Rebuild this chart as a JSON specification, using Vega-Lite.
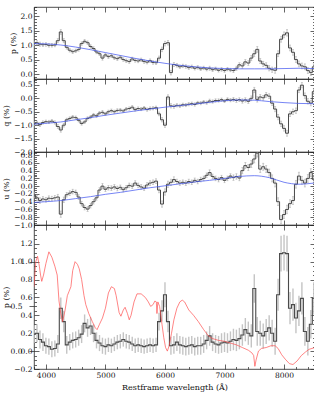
{
  "$schema": "https://vega.github.io/schema/vega-lite/v6.json",
  "padding": {"left": 2, "top": 2, "right": 0, "bottom": 0},
  "spacing": 0,
  "bounds": "flush",
  "datasets": {
    "bins": [
      {"w":3800,"p":1.05,"q":-0.95,"u":-0.23,"c":0.19,"e":0.07,"ec":0.10},
      {"w":3850,"p":1.08,"q":-0.92,"u":-0.30,"c":0.20,"e":0.07,"ec":0.10},
      {"w":3900,"p":1.03,"q":-0.98,"u":-0.37,"c":0.13,"e":0.07,"ec":0.10},
      {"w":3950,"p":1.01,"q":-0.90,"u":-0.33,"c":0.10,"e":0.06,"ec":0.10},
      {"w":4000,"p":1.02,"q":-0.87,"u":-0.35,"c":0.06,"e":0.06,"ec":0.09},
      {"w":4050,"p":0.99,"q":-0.88,"u":-0.31,"c":0.05,"e":0.06,"ec":0.09},
      {"w":4100,"p":0.99,"q":-0.85,"u":-0.32,"c":0.02,"e":0.06,"ec":0.09},
      {"w":4150,"p":1.00,"q":-0.90,"u":-0.30,"c":0.03,"e":0.06,"ec":0.09},
      {"w":4200,"p":1.15,"q":-1.05,"u":-0.28,"c":0.08,"e":0.07,"ec":0.10},
      {"w":4250,"p":1.45,"q":-1.18,"u":-0.72,"c":0.48,"e":0.08,"ec":0.12},
      {"w":4300,"p":1.15,"q":-1.00,"u":-0.35,"c":0.33,"e":0.07,"ec":0.12},
      {"w":4350,"p":0.92,"q":-0.80,"u":-0.22,"c":0.07,"e":0.06,"ec":0.10},
      {"w":4400,"p":0.82,"q":-0.75,"u":-0.18,"c":0.10,"e":0.06,"ec":0.09},
      {"w":4450,"p":0.77,"q":-0.70,"u":-0.14,"c":0.12,"e":0.06,"ec":0.09},
      {"w":4500,"p":0.80,"q":-0.72,"u":-0.16,"c":0.13,"e":0.06,"ec":0.09},
      {"w":4550,"p":0.85,"q":-0.82,"u":-0.28,"c":0.15,"e":0.06,"ec":0.09},
      {"w":4600,"p":1.05,"q":-0.94,"u":-0.45,"c":0.19,"e":0.06,"ec":0.10},
      {"w":4650,"p":1.13,"q":-0.88,"u":-0.55,"c":0.31,"e":0.06,"ec":0.10},
      {"w":4700,"p":1.08,"q":-0.75,"u":-0.59,"c":0.26,"e":0.06,"ec":0.10},
      {"w":4750,"p":0.95,"q":-0.70,"u":-0.50,"c":0.28,"e":0.06,"ec":0.10},
      {"w":4800,"p":0.88,"q":-0.62,"u":-0.40,"c":0.20,"e":0.06,"ec":0.10},
      {"w":4850,"p":0.76,"q":-0.65,"u":-0.30,"c":0.12,"e":0.06,"ec":0.09},
      {"w":4900,"p":0.70,"q":-0.55,"u":-0.10,"c":0.09,"e":0.06,"ec":0.09},
      {"w":4950,"p":0.55,"q":-0.52,"u":0.00,"c":0.06,"e":0.07,"ec":0.09},
      {"w":5000,"p":0.66,"q":-0.58,"u":-0.08,"c":0.05,"e":0.06,"ec":0.09},
      {"w":5050,"p":0.60,"q":-0.50,"u":-0.04,"c":0.07,"e":0.06,"ec":0.08},
      {"w":5100,"p":0.63,"q":-0.46,"u":-0.05,"c":0.06,"e":0.06,"ec":0.08},
      {"w":5150,"p":0.56,"q":-0.50,"u":-0.02,"c":0.08,"e":0.06,"ec":0.08},
      {"w":5200,"p":0.53,"q":-0.45,"u":-0.06,"c":0.10,"e":0.06,"ec":0.08},
      {"w":5250,"p":0.58,"q":-0.44,"u":-0.03,"c":0.11,"e":0.06,"ec":0.08},
      {"w":5300,"p":0.50,"q":-0.47,"u":-0.09,"c":0.13,"e":0.06,"ec":0.08},
      {"w":5350,"p":0.46,"q":-0.40,"u":-0.04,"c":0.11,"e":0.06,"ec":0.08},
      {"w":5400,"p":0.43,"q":-0.38,"u":0.02,"c":0.10,"e":0.06,"ec":0.08},
      {"w":5450,"p":0.52,"q":-0.33,"u":0.00,"c":0.08,"e":0.06,"ec":0.08},
      {"w":5500,"p":0.47,"q":-0.42,"u":0.08,"c":0.06,"e":0.06,"ec":0.08},
      {"w":5550,"p":0.45,"q":-0.38,"u":0.02,"c":0.07,"e":0.06,"ec":0.08},
      {"w":5600,"p":0.49,"q":-0.40,"u":-0.02,"c":0.06,"e":0.06,"ec":0.08},
      {"w":5650,"p":0.43,"q":-0.36,"u":-0.05,"c":0.05,"e":0.06,"ec":0.08},
      {"w":5700,"p":0.41,"q":-0.42,"u":0.03,"c":0.06,"e":0.06,"ec":0.08},
      {"w":5750,"p":0.46,"q":-0.38,"u":0.08,"c":0.07,"e":0.06,"ec":0.08},
      {"w":5800,"p":0.40,"q":-0.37,"u":0.10,"c":0.06,"e":0.06,"ec":0.08},
      {"w":5850,"p":0.39,"q":-0.35,"u":0.13,"c":0.07,"e":0.06,"ec":0.08},
      {"w":5900,"p":0.55,"q":-0.58,"u":-0.10,"c":0.33,"e":0.07,"ec":0.10},
      {"w":5950,"p":0.85,"q":-0.80,"u":-0.46,"c":0.45,"e":0.08,"ec":0.12},
      {"w":6000,"p":1.05,"q":-1.00,"u":-0.15,"c":0.63,"e":0.08,"ec":0.14},
      {"w":6050,"p":1.08,"q":0.05,"u":0.05,"c":0.33,"e":0.08,"ec":0.12},
      {"w":6100,"p":0.05,"q":-0.28,"u":0.10,"c":0.06,"e":0.08,"ec":0.10},
      {"w":6150,"p":0.33,"q":-0.30,"u":0.17,"c":0.07,"e":0.07,"ec":0.10},
      {"w":6200,"p":0.30,"q":-0.26,"u":0.12,"c":0.10,"e":0.06,"ec":0.10},
      {"w":6250,"p":0.25,"q":-0.28,"u":0.08,"c":0.07,"e":0.06,"ec":0.10},
      {"w":6300,"p":0.28,"q":-0.24,"u":0.10,"c":0.06,"e":0.06,"ec":0.10},
      {"w":6350,"p":0.26,"q":-0.25,"u":0.08,"c":0.05,"e":0.06,"ec":0.10},
      {"w":6400,"p":0.22,"q":-0.22,"u":0.12,"c":0.06,"e":0.06,"ec":0.10},
      {"w":6450,"p":0.25,"q":-0.20,"u":0.10,"c":0.07,"e":0.06,"ec":0.10},
      {"w":6500,"p":0.20,"q":-0.23,"u":0.15,"c":0.05,"e":0.06,"ec":0.10},
      {"w":6550,"p":0.23,"q":-0.17,"u":0.12,"c":0.06,"e":0.06,"ec":0.10},
      {"w":6600,"p":0.18,"q":-0.18,"u":0.17,"c":0.06,"e":0.06,"ec":0.10},
      {"w":6650,"p":0.21,"q":-0.14,"u":0.20,"c":0.08,"e":0.06,"ec":0.10},
      {"w":6700,"p":0.17,"q":-0.16,"u":0.28,"c":0.12,"e":0.06,"ec":0.10},
      {"w":6750,"p":0.20,"q":-0.10,"u":0.35,"c":0.17,"e":0.07,"ec":0.11},
      {"w":6800,"p":0.15,"q":-0.12,"u":0.25,"c":0.10,"e":0.06,"ec":0.10},
      {"w":6850,"p":0.18,"q":-0.08,"u":0.20,"c":0.08,"e":0.06,"ec":0.10},
      {"w":6900,"p":0.13,"q":-0.08,"u":0.17,"c":0.07,"e":0.06,"ec":0.10},
      {"w":6950,"p":0.16,"q":-0.05,"u":0.22,"c":0.09,"e":0.06,"ec":0.11},
      {"w":7000,"p":0.12,"q":-0.10,"u":0.15,"c":0.10,"e":0.06,"ec":0.11},
      {"w":7050,"p":0.17,"q":-0.04,"u":0.20,"c":0.09,"e":0.06,"ec":0.11},
      {"w":7100,"p":0.14,"q":-0.07,"u":0.26,"c":0.11,"e":0.06,"ec":0.11},
      {"w":7150,"p":0.12,"q":-0.04,"u":0.22,"c":0.13,"e":0.07,"ec":0.12},
      {"w":7200,"p":0.20,"q":-0.08,"u":0.25,"c":0.12,"e":0.07,"ec":0.12},
      {"w":7250,"p":0.32,"q":-0.05,"u":0.21,"c":0.14,"e":0.07,"ec":0.12},
      {"w":7300,"p":0.28,"q":-0.10,"u":0.40,"c":0.18,"e":0.08,"ec":0.12},
      {"w":7350,"p":0.42,"q":-0.06,"u":0.53,"c":0.24,"e":0.08,"ec":0.13},
      {"w":7400,"p":0.38,"q":-0.11,"u":0.48,"c":0.20,"e":0.08,"ec":0.13},
      {"w":7450,"p":0.55,"q":0.00,"u":0.57,"c":0.17,"e":0.09,"ec":0.13},
      {"w":7500,"p":0.70,"q":0.31,"u":0.70,"c":0.70,"e":0.10,"ec":0.16},
      {"w":7550,"p":0.85,"q":-0.04,"u":0.85,"c":0.22,"e":0.10,"ec":0.16},
      {"w":7600,"p":0.45,"q":0.05,"u":0.44,"c":0.20,"e":0.09,"ec":0.14},
      {"w":7650,"p":0.35,"q":0.02,"u":0.50,"c":0.17,"e":0.09,"ec":0.14},
      {"w":7700,"p":0.30,"q":0.13,"u":0.44,"c":0.22,"e":0.09,"ec":0.14},
      {"w":7750,"p":0.20,"q":0.08,"u":0.35,"c":0.26,"e":0.09,"ec":0.14},
      {"w":7800,"p":0.15,"q":-0.18,"u":0.20,"c":0.20,"e":0.09,"ec":0.15},
      {"w":7850,"p":0.13,"q":-0.40,"u":0.08,"c":0.11,"e":0.10,"ec":0.15},
      {"w":7900,"p":0.70,"q":-0.70,"u":-0.40,"c":0.63,"e":0.10,"ec":0.18},
      {"w":7950,"p":1.20,"q":-0.95,"u":-0.86,"c":1.09,"e":0.10,"ec":0.20},
      {"w":8000,"p":1.35,"q":-1.12,"u":-0.73,"c":1.10,"e":0.10,"ec":0.20},
      {"w":8050,"p":1.42,"q":-1.30,"u":-0.60,"c":1.09,"e":0.11,"ec":0.20},
      {"w":8100,"p":0.90,"q":-0.58,"u":-0.45,"c":0.48,"e":0.10,"ec":0.18},
      {"w":8150,"p":0.75,"q":-0.50,"u":-0.37,"c":0.52,"e":0.10,"ec":0.18},
      {"w":8200,"p":0.50,"q":-0.46,"u":0.05,"c":0.37,"e":0.10,"ec":0.17},
      {"w":8250,"p":0.35,"q":0.31,"u":0.26,"c":0.45,"e":0.10,"ec":0.17},
      {"w":8300,"p":0.28,"q":0.49,"u":0.15,"c":0.59,"e":0.10,"ec":0.18},
      {"w":8350,"p":0.25,"q":0.10,"u":0.08,"c":0.22,"e":0.10,"ec":0.16},
      {"w":8400,"p":0.12,"q":-0.11,"u":0.20,"c":0.11,"e":0.10,"ec":0.16},
      {"w":8450,"p":0.05,"q":-0.18,"u":0.35,"c":0.30,"e":0.10,"ec":0.16},
      {"w":8500,"p":0.25,"q":0.25,"u":0.17,"c":0.59,"e":0.10,"ec":0.18}
    ],
    "fit": [
      {"w":3800,"pf":1.05,"qf":-0.96,"uf":-0.42},
      {"w":4000,"pf":1.04,"qf":-0.93,"uf":-0.40},
      {"w":4250,"pf":1.00,"qf":-0.88,"uf":-0.37},
      {"w":4500,"pf":0.93,"qf":-0.80,"uf":-0.32},
      {"w":4750,"pf":0.84,"qf":-0.72,"uf":-0.27},
      {"w":5000,"pf":0.74,"qf":-0.63,"uf":-0.21},
      {"w":5250,"pf":0.64,"qf":-0.55,"uf":-0.16},
      {"w":5500,"pf":0.54,"qf":-0.47,"uf":-0.10},
      {"w":5750,"pf":0.45,"qf":-0.40,"uf":-0.04},
      {"w":6000,"pf":0.37,"qf":-0.33,"uf":0.01},
      {"w":6250,"pf":0.30,"qf":-0.27,"uf":0.06},
      {"w":6500,"pf":0.25,"qf":-0.21,"uf":0.11},
      {"w":6750,"pf":0.21,"qf":-0.15,"uf":0.15},
      {"w":7000,"pf":0.19,"qf":-0.09,"uf":0.20},
      {"w":7250,"pf":0.18,"qf":-0.06,"uf":0.25},
      {"w":7500,"pf":0.18,"qf":-0.07,"uf":0.27},
      {"w":7750,"pf":0.18,"qf":-0.12,"uf":0.22},
      {"w":8000,"pf":0.19,"qf":-0.16,"uf":0.10},
      {"w":8250,"pf":0.20,"qf":-0.19,"uf":0.05},
      {"w":8500,"pf":0.19,"qf":-0.20,"uf":0.08}
    ],
    "flux": [
      {"w":3800,"f":0.72},{"w":3830,"f":1.00},{"w":3860,"f":1.06},{"w":3890,"f":0.95},{"w":3910,"f":0.85},
      {"w":3930,"f":0.78},{"w":3960,"f":0.85},{"w":4000,"f":0.98},{"w":4050,"f":1.11},{"w":4100,"f":1.05},
      {"w":4150,"f":0.95},{"w":4190,"f":0.85},{"w":4220,"f":0.56},{"w":4250,"f":0.42},{"w":4280,"f":0.33},
      {"w":4320,"f":0.45},{"w":4360,"f":0.62},{"w":4390,"f":0.67},{"w":4420,"f":0.72},{"w":4450,"f":0.90},
      {"w":4490,"f":1.00},{"w":4530,"f":0.97},{"w":4560,"f":0.92},{"w":4600,"f":0.80},{"w":4640,"f":0.62},
      {"w":4670,"f":0.52},{"w":4720,"f":0.42},{"w":4780,"f":0.33},{"w":4830,"f":0.26},{"w":4860,"f":0.24},
      {"w":4900,"f":0.30},{"w":4950,"f":0.37},{"w":5000,"f":0.48},{"w":5050,"f":0.65},{"w":5100,"f":0.72},
      {"w":5150,"f":0.70},{"w":5180,"f":0.62},{"w":5230,"f":0.43},{"w":5260,"f":0.39},{"w":5300,"f":0.46},
      {"w":5330,"f":0.49},{"w":5370,"f":0.42},{"w":5400,"f":0.35},{"w":5430,"f":0.40},{"w":5480,"f":0.55},
      {"w":5530,"f":0.64},{"w":5600,"f":0.64},{"w":5670,"f":0.60},{"w":5720,"f":0.55},{"w":5760,"f":0.50},
      {"w":5800,"f":0.52},{"w":5830,"f":0.56},{"w":5855,"f":0.55},{"w":5865,"f":0.42},{"w":5880,"f":0.55},
      {"w":5910,"f":0.50},{"w":5950,"f":0.30},{"w":5980,"f":0.15},{"w":6010,"f":0.04},{"w":6040,"f":0.00},
      {"w":6070,"f":0.06},{"w":6110,"f":0.20},{"w":6150,"f":0.35},{"w":6200,"f":0.48},{"w":6250,"f":0.55},
      {"w":6290,"f":0.57},{"w":6330,"f":0.55},{"w":6400,"f":0.46},{"w":6480,"f":0.40},{"w":6560,"f":0.33},
      {"w":6650,"f":0.24},{"w":6730,"f":0.17},{"w":6800,"f":0.14},{"w":6900,"f":0.12},{"w":7000,"f":0.11},
      {"w":7100,"f":0.09},{"w":7200,"f":0.07},{"w":7300,"f":0.04},{"w":7400,"f":0.01},{"w":7460,"f":-0.02},
      {"w":7490,"f":-0.05},{"w":7510,"f":-0.17},{"w":7530,"f":-0.10},{"w":7570,"f":0.00},{"w":7620,"f":0.03},
      {"w":7700,"f":0.04},{"w":7780,"f":0.06},{"w":7850,"f":0.06},{"w":7900,"f":0.03},{"w":7960,"f":-0.04},
      {"w":8020,"f":-0.09},{"w":8090,"f":-0.14},{"w":8150,"f":-0.15},{"w":8220,"f":-0.11},{"w":8290,"f":-0.05},
      {"w":8360,"f":-0.01},{"w":8420,"f":0.02},{"w":8520,"f":0.04}
    ]
  },
  "vconcat": [
    {
      "width": 281, "height": 72,
      "layer": [
        {"data": {"name": "bins"}, "mark": {"type": "errorbar", "color": "#b0b0b0", "thickness": 0.8, "ticks": {"size": 2, "color": "#b0b0b0"}, "clip": true},
         "encoding": {"x": {"field": "w", "type": "quantitative", "axis": null}, "y": {"field": "p", "type": "quantitative", "axis": null}, "yError": {"field": "e"}}},
        {"data": {"name": "bins"}, "mark": {"type": "line", "interpolate": "step", "color": "#4a4a4a", "strokeWidth": 1, "clip": true},
         "encoding": {
           "x": {"field": "w", "type": "quantitative", "scale": {"domain": [3800, 8520], "nice": false, "zero": false},
                 "axis": {"orient": "bottom", "title": null, "labels": false, "values": [3800,4000,4200,4400,4600,4800,5000,5200,5400,5600,5800,6000,6200,6400,6600,6800,7000,7200,7400,7600,7800,8000,8200,8400],
                          "tickSize": {"condition": {"test": "datum.value % 1000 === 0", "value": -5}, "value": -2.5}}},
           "y": {"field": "p", "type": "quantitative", "scale": {"domain": [-0.17, 2.31], "nice": false, "zero": false},
                 "axis": {"orient": "left", "title": "p (%)", "values": [-0.1,0,0.1,0.2,0.3,0.4,0.5,0.6,0.7,0.8,0.9,1,1.1,1.2,1.3,1.4,1.5,1.6,1.7,1.8,1.9,2,2.1,2.2,2.3],
                          "labelExpr": "abs(datum.value*2 - round(datum.value*2)) < 0.001 ? format(datum.value, '.1f') : ''",
                          "tickSize": {"condition": {"test": "abs(datum.value*2 - round(datum.value*2)) < 0.001", "value": -5}, "value": -2.5}}}
         }},
        {"data": {"name": "fit"}, "mark": {"type": "line", "interpolate": "monotone", "color": "#4a5cf0", "strokeWidth": 1, "opacity": 0.75, "clip": true},
         "encoding": {
           "x": {"field": "w", "type": "quantitative",
                 "axis": {"orient": "top", "title": null, "labels": false, "values": [3800,4000,4200,4400,4600,4800,5000,5200,5400,5600,5800,6000,6200,6400,6600,6800,7000,7200,7400,7600,7800,8000,8200,8400],
                          "tickSize": {"condition": {"test": "datum.value % 1000 === 0", "value": -5}, "value": -2.5}}},
           "y": {"field": "pf", "type": "quantitative",
                 "axis": {"orient": "right", "title": null, "labels": false, "values": [-0.1,0,0.1,0.2,0.3,0.4,0.5,0.6,0.7,0.8,0.9,1,1.1,1.2,1.3,1.4,1.5,1.6,1.7,1.8,1.9,2,2.1,2.2,2.3],
                          "tickSize": {"condition": {"test": "abs(datum.value*2 - round(datum.value*2)) < 0.001", "value": -5}, "value": -2.5}}}
         }}
      ]
    },
    {
      "width": 281, "height": 73,
      "layer": [
        {"data": {"name": "bins"}, "mark": {"type": "errorbar", "color": "#b0b0b0", "thickness": 0.8, "ticks": {"size": 2, "color": "#b0b0b0"}, "clip": true},
         "encoding": {"x": {"field": "w", "type": "quantitative", "axis": null}, "y": {"field": "q", "type": "quantitative", "axis": null}, "yError": {"field": "e"}}},
        {"data": {"name": "bins"}, "mark": {"type": "line", "interpolate": "step", "color": "#4a4a4a", "strokeWidth": 1, "clip": true},
         "encoding": {
           "x": {"field": "w", "type": "quantitative", "scale": {"domain": [3800, 8520], "nice": false, "zero": false},
                 "axis": {"orient": "bottom", "title": null, "labels": false, "values": [3800,4000,4200,4400,4600,4800,5000,5200,5400,5600,5800,6000,6200,6400,6600,6800,7000,7200,7400,7600,7800,8000,8200,8400],
                          "tickSize": {"condition": {"test": "datum.value % 1000 === 0", "value": -5}, "value": -2.5}}},
           "y": {"field": "q", "type": "quantitative", "scale": {"domain": [-2.0, 0.72], "nice": false, "zero": false},
                 "axis": {"orient": "left", "title": "q (%)", "values": [-2,-1.9,-1.8,-1.7,-1.6,-1.5,-1.4,-1.3,-1.2,-1.1,-1,-0.9,-0.8,-0.7,-0.6,-0.5,-0.4,-0.3,-0.2,-0.1,0,0.1,0.2,0.3,0.4,0.5,0.6,0.7],
                          "labelExpr": "abs(datum.value*2 - round(datum.value*2)) < 0.001 ? format(datum.value, '.1f') : ''",
                          "tickSize": {"condition": {"test": "abs(datum.value*2 - round(datum.value*2)) < 0.001", "value": -5}, "value": -2.5}}}
         }},
        {"data": {"name": "fit"}, "mark": {"type": "line", "interpolate": "monotone", "color": "#4a5cf0", "strokeWidth": 1, "opacity": 0.75, "clip": true},
         "encoding": {
           "x": {"field": "w", "type": "quantitative",
                 "axis": {"orient": "top", "title": null, "labels": false, "values": [3800,4000,4200,4400,4600,4800,5000,5200,5400,5600,5800,6000,6200,6400,6600,6800,7000,7200,7400,7600,7800,8000,8200,8400],
                          "tickSize": {"condition": {"test": "datum.value % 1000 === 0", "value": -5}, "value": -2.5}}},
           "y": {"field": "qf", "type": "quantitative",
                 "axis": {"orient": "right", "title": null, "labels": false, "values": [-2,-1.9,-1.8,-1.7,-1.6,-1.5,-1.4,-1.3,-1.2,-1.1,-1,-0.9,-0.8,-0.7,-0.6,-0.5,-0.4,-0.3,-0.2,-0.1,0,0.1,0.2,0.3,0.4,0.5,0.6,0.7],
                          "tickSize": {"condition": {"test": "abs(datum.value*2 - round(datum.value*2)) < 0.001", "value": -5}, "value": -2.5}}}
         }}
      ]
    },
    {
      "width": 281, "height": 73,
      "layer": [
        {"data": {"name": "bins"}, "mark": {"type": "errorbar", "color": "#b0b0b0", "thickness": 0.8, "ticks": {"size": 2, "color": "#b0b0b0"}, "clip": true},
         "encoding": {"x": {"field": "w", "type": "quantitative", "axis": null}, "y": {"field": "u", "type": "quantitative", "axis": null}, "yError": {"field": "e"}}},
        {"data": {"name": "bins"}, "mark": {"type": "line", "interpolate": "step", "color": "#4a4a4a", "strokeWidth": 1, "clip": true},
         "encoding": {
           "x": {"field": "w", "type": "quantitative", "scale": {"domain": [3800, 8520], "nice": false, "zero": false},
                 "axis": {"orient": "bottom", "title": null, "labels": false, "values": [3800,4000,4200,4400,4600,4800,5000,5200,5400,5600,5800,6000,6200,6400,6600,6800,7000,7200,7400,7600,7800,8000,8200,8400],
                          "tickSize": {"condition": {"test": "datum.value % 1000 === 0", "value": -5}, "value": -2.5}}},
           "y": {"field": "u", "type": "quantitative", "scale": {"domain": [-1.0, 0.88], "nice": false, "zero": false},
                 "axis": {"orient": "left", "title": "u (%)", "values": [-1,-0.95,-0.9,-0.85,-0.8,-0.75,-0.7,-0.65,-0.6,-0.55,-0.5,-0.45,-0.4,-0.35,-0.3,-0.25,-0.2,-0.15,-0.1,-0.05,0,0.05,0.1,0.15,0.2,0.25,0.3,0.35,0.4,0.45,0.5,0.55,0.6,0.65,0.7,0.75,0.8,0.85],
                          "labelExpr": "abs(datum.value*5 - round(datum.value*5)) < 0.001 ? format(datum.value, '.1f') : ''",
                          "tickSize": {"condition": {"test": "abs(datum.value*5 - round(datum.value*5)) < 0.001", "value": -5}, "value": -2.5}}}
         }},
        {"data": {"name": "fit"}, "mark": {"type": "line", "interpolate": "monotone", "color": "#4a5cf0", "strokeWidth": 1, "opacity": 0.75, "clip": true},
         "encoding": {
           "x": {"field": "w", "type": "quantitative",
                 "axis": {"orient": "top", "title": null, "labels": false, "values": [3800,4000,4200,4400,4600,4800,5000,5200,5400,5600,5800,6000,6200,6400,6600,6800,7000,7200,7400,7600,7800,8000,8200,8400],
                          "tickSize": {"condition": {"test": "datum.value % 1000 === 0", "value": -5}, "value": -2.5}}},
           "y": {"field": "uf", "type": "quantitative",
                 "axis": {"orient": "right", "title": null, "labels": false, "values": [-1,-0.95,-0.9,-0.85,-0.8,-0.75,-0.7,-0.65,-0.6,-0.55,-0.5,-0.45,-0.4,-0.35,-0.3,-0.25,-0.2,-0.15,-0.1,-0.05,0,0.05,0.1,0.15,0.2,0.25,0.3,0.35,0.4,0.45,0.5,0.55,0.6,0.65,0.7,0.75,0.8,0.85],
                          "tickSize": {"condition": {"test": "abs(datum.value*5 - round(datum.value*5)) < 0.001", "value": -5}, "value": -2.5}}}
         }}
      ]
    },
    {
      "width": 281, "height": 144,
      "layer": [
        {"data": {"name": "bins"}, "mark": {"type": "errorbar", "color": "#c4c4c4", "thickness": 1.4, "clip": true},
         "encoding": {"x": {"field": "w", "type": "quantitative", "axis": null}, "y": {"field": "c", "type": "quantitative", "axis": null}, "yError": {"field": "ec"}}},
        {"data": {"name": "bins"}, "mark": {"type": "line", "interpolate": "step", "color": "#4a4a4a", "strokeWidth": 1.1, "clip": true},
         "encoding": {
           "x": {"field": "w", "type": "quantitative", "scale": {"domain": [3800, 8520], "nice": false, "zero": false},
                 "axis": {"orient": "bottom", "title": "Restframe wavelength (Å)", "titlePadding": 2, "values": [3800,4000,4200,4400,4600,4800,5000,5200,5400,5600,5800,6000,6200,6400,6600,6800,7000,7200,7400,7600,7800,8000,8200,8400],
                          "labelExpr": "datum.value % 1000 === 0 ? format(datum.value, 'd') : ''",
                          "tickSize": {"condition": {"test": "datum.value % 1000 === 0", "value": -5}, "value": -2.5}}},
           "y": {"field": "c", "type": "quantitative", "scale": {"domain": [-0.2, 1.41], "nice": false, "zero": false},
                 "axis": {"orient": "left", "title": "p (%)", "values": [-0.2,-0.15,-0.1,-0.05,0,0.05,0.1,0.15,0.2,0.25,0.3,0.35,0.4,0.45,0.5,0.55,0.6,0.65,0.7,0.75,0.8,0.85,0.9,0.95,1,1.05,1.1,1.15,1.2,1.25,1.3,1.35],
                          "labelExpr": "abs(datum.value*5 - round(datum.value*5)) < 0.001 ? format(datum.value, '.1f') : ''",
                          "tickSize": {"condition": {"test": "abs(datum.value*5 - round(datum.value*5)) < 0.001", "value": -5}, "value": -2.5}}}
         }},
        {"data": {"name": "flux"}, "mark": {"type": "line", "color": "#ff4a4a", "strokeWidth": 0.8, "opacity": 0.85, "clip": true},
         "encoding": {
           "x": {"field": "w", "type": "quantitative",
                 "axis": {"orient": "top", "title": null, "labels": false, "values": [3800,4000,4200,4400,4600,4800,5000,5200,5400,5600,5800,6000,6200,6400,6600,6800,7000,7200,7400,7600,7800,8000,8200,8400],
                          "tickSize": {"condition": {"test": "datum.value % 1000 === 0", "value": -5}, "value": -2.5}}},
           "y": {"field": "f", "type": "quantitative",
                 "axis": {"orient": "right", "title": null, "labels": false, "values": [-0.2,-0.15,-0.1,-0.05,0,0.05,0.1,0.15,0.2,0.25,0.3,0.35,0.4,0.45,0.5,0.55,0.6,0.65,0.7,0.75,0.8,0.85,0.9,0.95,1,1.05,1.1,1.15,1.2,1.25,1.3,1.35],
                          "tickSize": {"condition": {"test": "abs(datum.value*5 - round(datum.value*5)) < 0.001", "value": -5}, "value": -2.5}}}
         }},
        {"mark": {"type": "rule", "color": "#333333", "strokeDash": [3, 2], "strokeWidth": 0.7},
         "encoding": {"y": {"datum": 0}}}
      ]
    }
  ],
  "config": {
    "font": "DejaVu Serif",
    "view": {"stroke": "#222222", "strokeWidth": 0.8},
    "axis": {
      "domain": false, "grid": false, "ticks": true,
      "tickColor": "#222222", "tickWidth": 0.7,
      "labelFont": "DejaVu Serif", "labelFontSize": 7.5, "labelColor": "#111111", "labelPadding": 7,
      "labelOverlap": false, "labelFlush": false, "labelBound": false,
      "titleFont": "DejaVu Serif", "titleFontSize": 8, "titleFontWeight": "normal", "titleColor": "#111111", "titlePadding": 3
    }
  }
}
